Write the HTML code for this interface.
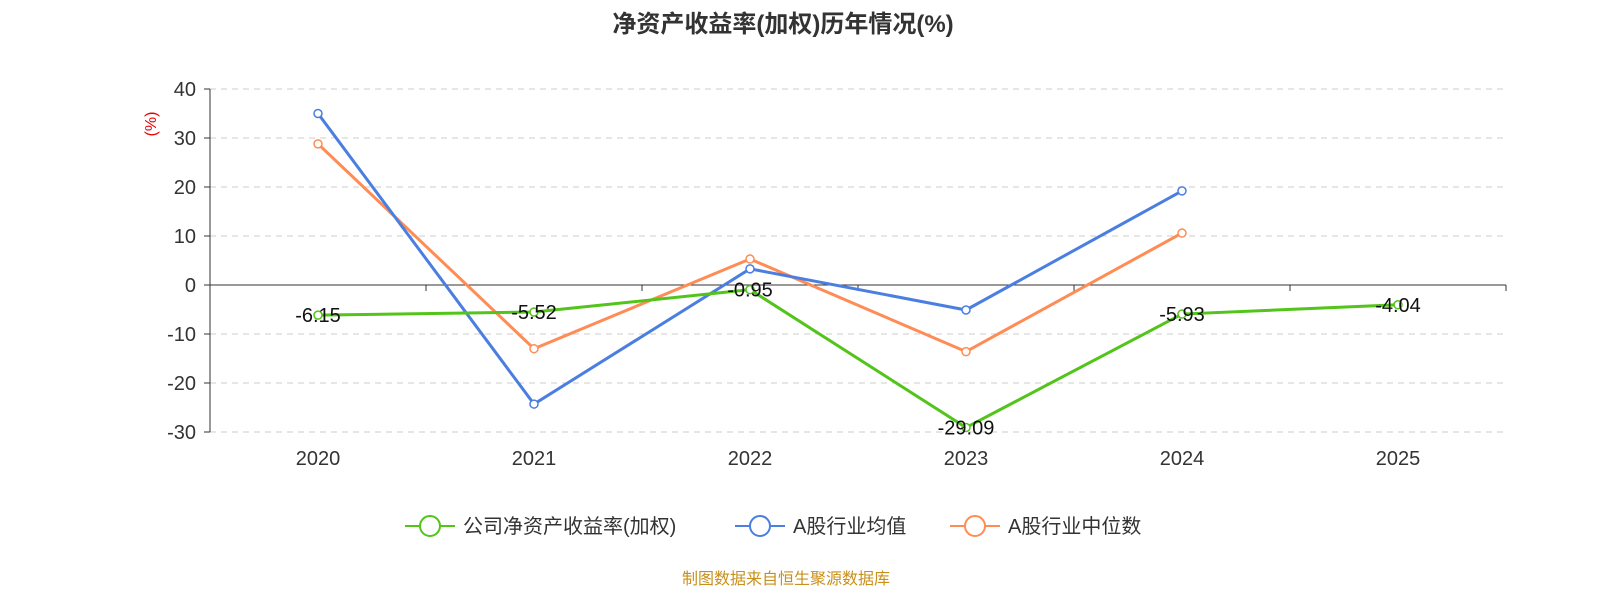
<!DOCTYPE html>
<html><head><meta charset="utf-8">
<style>
body{margin:0;background:#fff;font-family:"Liberation Sans","Noto Sans CJK SC",sans-serif;}
svg text{font-family:"Liberation Sans","Noto Sans CJK SC",sans-serif;}
</style></head>
<body>
<svg id="chart" width="1600" height="600">
<text x="783" y="32" text-anchor="middle" font-size="24" font-weight="bold" fill="#333">净资产收益率(加权)历年情况(%)</text>
<text x="156" y="124" text-anchor="middle" font-size="16" fill="#e00" transform="rotate(-90 156 124)">(%)</text>
<g id="grid"></g><g id="axes"></g><g id="series"></g>
<g>
<g><line x1="405" y1="526" x2="455" y2="526" stroke="#52c41a" stroke-width="2"/><circle cx="430" cy="526" r="10" fill="#fff" stroke="#52c41a" stroke-width="2"/><text x="463" y="533" font-size="20" fill="#333">公司净资产收益率(加权)</text></g>
<g><line x1="735" y1="526" x2="785" y2="526" stroke="#4a7ee0" stroke-width="2"/><circle cx="760" cy="526" r="10" fill="#fff" stroke="#4a7ee0" stroke-width="2"/><text x="793" y="533" font-size="20" fill="#333">A股行业均值</text></g>
<g><line x1="950" y1="526" x2="1000" y2="526" stroke="#ff8c55" stroke-width="2"/><circle cx="975" cy="526" r="10" fill="#fff" stroke="#ff8c55" stroke-width="2"/><text x="1008" y="533" font-size="20" fill="#333">A股行业中位数</text></g>
</g>
<text x="786" y="584" text-anchor="middle" font-size="16" fill="#c8901a">制图数据来自恒生聚源数据库</text>
</svg>
<script>
const years=["2020","2021","2022","2023","2024","2025"];
const companyVals=[-6.15,-5.52,-0.95,-29.09,-5.93,-4.04];
const meanVals=[35.0,-24.3,3.3,-5.1,19.2,null];
const medianVals=[28.8,-13.0,5.3,-13.6,10.6,null];
const yTicks=[40,30,20,10,0,-10,-20,-30];
const NS="http://www.w3.org/2000/svg";
const x0=210,x1=1506,yTop=89,yBot=432,vMax=40,vMin=-30;
const band=(x1-x0)/years.length;
function xs(i){return x0+band*(i+0.5);}
function ys(v){return yTop+(vMax-v)/(vMax-vMin)*(yBot-yTop);}
function mk(tag,attrs,parent){const e=document.createElementNS(NS,tag);for(const k in attrs)e.setAttribute(k,attrs[k]);parent.appendChild(e);return e;}
const grid=document.getElementById('grid'),axes=document.getElementById('axes'),series=document.getElementById('series');
yTicks.forEach(t=>{
 if(t!==0){const l=mk('line',{x1:x0,x2:x1,y1:ys(t),y2:ys(t),stroke:'#ccc','stroke-dasharray':'6,5'},grid);
 
 }
 mk('line',{x1:x0-6,x2:x0,y1:ys(t),y2:ys(t),stroke:'#333'},axes);
 const tx=mk('text',{x:x0-14,y:ys(t)+7,'text-anchor':'end','font-size':20,fill:'#333'},axes);tx.textContent=t;
 
 
});
const ya=mk('line',{x1:x0,x2:x0,y1:yTop,y2:yBot,stroke:'#333'},axes);


const xa=mk('line',{x1:x0,x2:x1,y1:ys(0),y2:ys(0),stroke:'#333'},axes);


for(let i=0;i<=years.length;i++)mk('line',{x1:x0+band*i,x2:x0+band*i,y1:ys(0),y2:ys(0)+6,stroke:'#333'},axes);
years.forEach((y,i)=>{const t=mk('text',{x:xs(i),y:465,'text-anchor':'middle','font-size':20,fill:'#333'},axes);t.textContent=y;
 
 });
function drawSeries(vals,color,name,labels){
 const g=mk('g',{},series);
 
 
 let d='';vals.forEach((v,i)=>{if(v===null)return;d+=(d?'L':'M')+xs(i)+','+ys(v);});
 mk('path',{d:d,fill:'none',stroke:color,'stroke-width':3},g);
 vals.forEach((v,i)=>{if(v===null)return;
  const c=mk('circle',{cx:xs(i),cy:ys(v),r:4,fill:'#fff',stroke:color,'stroke-width':1.5},g);
  
  
  if(labels){const t=mk('text',{x:xs(i),y:ys(v)+7,'text-anchor':'middle','font-size':20,fill:'#111'},g);t.textContent=v.toFixed(2);
   
   }
 });
}
drawSeries(medianVals,'#ff8c55','industry-median-line',false);
drawSeries(meanVals,'#4a7ee0','industry-mean-line',false);
drawSeries(companyVals,'#52c41a','company-roe-line',true);
</script>
</body></html>
